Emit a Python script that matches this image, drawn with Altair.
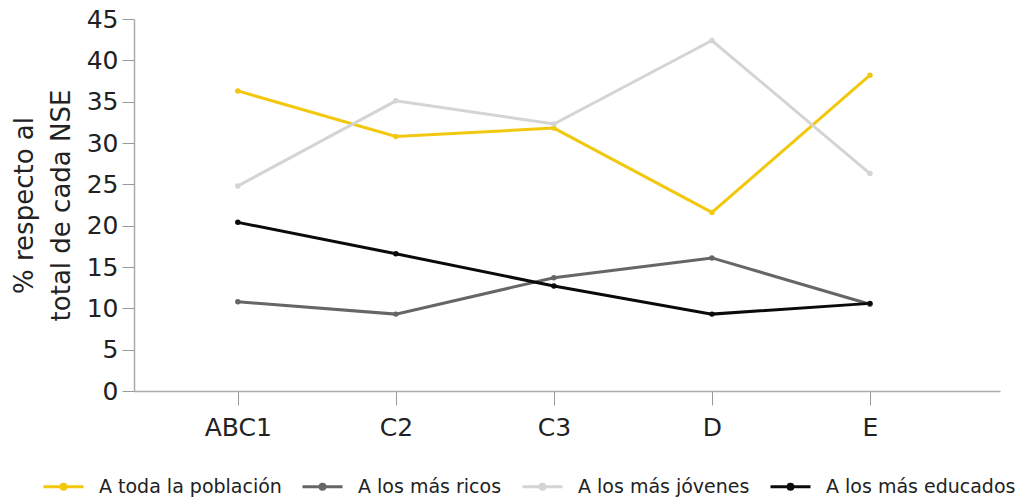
import altair as alt
import pandas as pd

categories = ["ABC1", "C2", "C3", "D", "E"]
series_names = ["A toda la población", "A los más ricos", "A los más jóvenes", "A los más educados"]
toda = [36.3, 30.8, 31.8, 21.6, 38.2]
ricos = [10.8, 9.3, 13.7, 16.1, 10.5]
jovenes = [24.8, 35.1, 32.3, 42.4, 26.3]
educados = [20.4, 16.6, 12.7, 9.3, 10.6]
colors = ["#F2C80F", "#666666", "#D4D4D4", "#0A0A0A"]
y_ticks = [0, 5, 10, 15, 20, 25, 30, 35, 40, 45]

rows = []
for name, vals in zip(series_names, [toda, ricos, jovenes, educados]):
    for c, v in zip(categories, vals):
        rows.append({"nse": c, "serie": name, "valor": v})
df = pd.DataFrame(rows)

FONT = "DejaVu Sans"
TXT = "#222222"

color = alt.Color(
    "serie:N",
    sort=series_names,
    scale=alt.Scale(domain=series_names, range=colors),
    legend=alt.Legend(
        title=None,
        orient="none",
        direction="horizontal",
        legendX=-92,
        legendY=446,
        symbolType="M-1,0L1,0M-0.12,0A0.12,0.12,0,1,0,0.12,0A0.12,0.12,0,1,0,-0.12,0",
        symbolSize=1600,
        symbolStrokeWidth=3,
        labelFont=FONT,
        labelFontSize=19,
        labelColor=TXT,
        labelOffset=14,
        labelLimit=400,
        columnPadding=14,
    ),
)

x = alt.X(
    "nse:N",
    sort=categories,
    scale=alt.Scale(type="point", padding=0.74, align=0.444),
    axis=alt.Axis(
        title=None,
        labelAngle=0,
        labelFont=FONT,
        labelFontSize=25,
        labelColor=TXT,
        labelPadding=10,
        tickSize=14,
        tickColor="#999999",
        domainColor="#AAAAAA",
        domainWidth=1.5,
        grid=False,
    ),
)
y = alt.Y(
    "valor:Q",
    scale=alt.Scale(domain=[0, 45], nice=False),
    axis=alt.Axis(
        values=y_ticks,
        title=["% respecto al", "total de cada NSE"],
        titleFont=FONT,
        titleFontSize=26,
        titleFontWeight="normal",
        titleColor=TXT,
        titleLineHeight=37,
        titlePadding=12,
        labelFont=FONT,
        labelFontSize=25,
        labelColor=TXT,
        labelPadding=4,
        tickSize=12,
        tickColor="#999999",
        domainColor="#AAAAAA",
        domainWidth=1.5,
        grid=False,
    ),
)

lines = alt.Chart(df).mark_line(strokeWidth=3).encode(x=x, y=y, color=color)
points = alt.Chart(df).mark_circle(size=30, opacity=1).encode(
    x=x, y=y, color=alt.Color("serie:N", sort=series_names,
                              scale=alt.Scale(domain=series_names, range=colors), legend=None)
)

chart = (
    alt.layer(lines, points)
    .properties(
        width=866,
        height=372,
        autosize=alt.AutoSizeParams(type="none"),
        padding={"left": 126, "top": 11, "right": 15, "bottom": 107},
        view=alt.ViewBackground(stroke=None, strokeWidth=0),
    )
    .configure_view(strokeWidth=0)
    .configure(background="white")
)

chart.save("out.html", embed_options={"renderer": "svg", "actions": False})
